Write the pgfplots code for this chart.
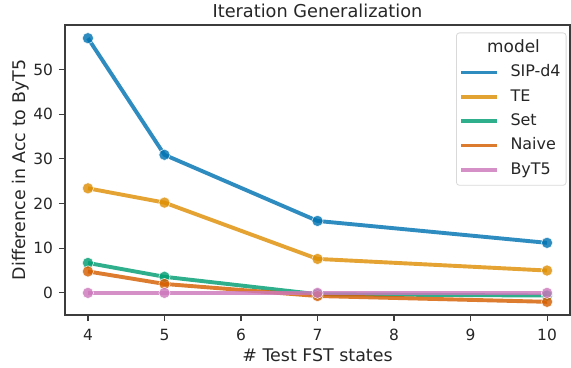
\documentclass[border=0pt]{standalone}
\usepackage{fontspec}
\setmainfont{DejaVu Sans}
\usepackage{pgfplots}
\pgfplotsset{compat=1.18}
\definecolor{cSIP}{HTML}{0173B2}
\definecolor{cTE}{HTML}{DE8F05}
\definecolor{cSet}{HTML}{029E73}
\definecolor{cNaive}{HTML}{D55E00}
\definecolor{cByT}{HTML}{CC78BC}
\definecolor{txt}{HTML}{262626}
\definecolor{spine}{HTML}{3C3C3C}
\begin{document}
\begin{tikzpicture}[x=1bp,y=1bp]
\useasboundingbox (-65bp,-53bp) rectangle (506bp,315bp);
\begin{axis}[
  at={(0bp,0bp)}, anchor=south west,
  scale only axis,
  width=505bp, height=290bp,
  xmin=3.7, xmax=10.3,
  ymin=-4.95, ymax=59.95,
  xtick={4,5,6,7,8,9,10},
  ytick={0,10,20,30,40,50},
  tick align=outside,
  xtick pos=bottom, ytick pos=left,
  major tick length=6bp,
  every tick/.style={spine, line width=1.1bp},
  axis line style={spine, line width=1.3bp},
  tick label style={font=\fontsize{15.5}{18}\selectfont, text=txt},
  xticklabel style={yshift=-4.5bp},
  yticklabel style={xshift=-2.5bp},
  /pgf/number format/assume math mode=true,
  title={Iteration Generalization},
  title style={font=\fontsize{17.8}{20}\selectfont, text=txt, at={(axis description cs:0.5,1)}, anchor=base, yshift=2bp},
  xlabel={\# Test FST states},
  ylabel={Difference in Acc to ByT5},
  label style={font=\fontsize{17.5}{20}\selectfont, text=txt},
  xlabel style={at={(axis description cs:0.5,0)}, anchor=base, yshift=-46.5bp},
  ylabel style={at={(axis description cs:0,0.5)}, anchor=center, yshift=44.5bp},
  legend style={
    at={(1,1)}, anchor=north east, xshift=-3.5bp, yshift=-7.5bp,
    font=\fontsize{16}{19}\selectfont, text=txt,
    draw=black!15, rounded corners=3bp, line width=0.8bp,
    inner xsep=3bp, inner ysep=5.7bp, row sep=4.8bp, column sep=9bp,
    nodes={text height=12bp, text depth=3.5bp, inner xsep=2.5bp, inner ysep=2bp},
  },
  legend cell align=left,
  legend image code/.code={\draw[line width=3.6bp,#1] (0bp,0bp) -- (36bp,0bp);},
  every axis plot/.append style={line width=3.9bp, opacity=0.82},
  mark size=5.6bp,
]
\addlegendimage{empty legend}
\addlegendentry{\hspace{-37bp}\makebox[80bp][c]{\fontsize{17}{19}\selectfont model}}
\addplot[color=cSIP, mark=*, mark options={fill=cSIP, draw=white, line width=0.6bp}] coordinates {(4,57.0) (5,30.9) (7,16.1) (10,11.2)};
\addlegendentry{SIP-d4}
\addplot[color=cTE, mark=*, mark options={fill=cTE, draw=white, line width=0.6bp}] coordinates {(4,23.4) (5,20.2) (7,7.6) (10,5.0)};
\addlegendentry{TE}
\addplot[color=cSet, mark=*, mark options={fill=cSet, draw=white, line width=0.6bp}] coordinates {(4,6.7) (5,3.6) (7,-0.3) (10,-0.6)};
\addlegendentry{Set}
\addplot[color=cNaive, mark=*, mark options={fill=cNaive, draw=white, line width=0.6bp}] coordinates {(4,4.8) (5,2.0) (7,-0.7) (10,-2.0)};
\addlegendentry{Naive}
\addplot[color=cByT, mark=*, mark options={fill=cByT, draw=white, line width=0.6bp}] coordinates {(4,0) (5,0) (7,0) (10,0)};
\addlegendentry{ByT5}
\end{axis}
\end{tikzpicture}
\end{document}
